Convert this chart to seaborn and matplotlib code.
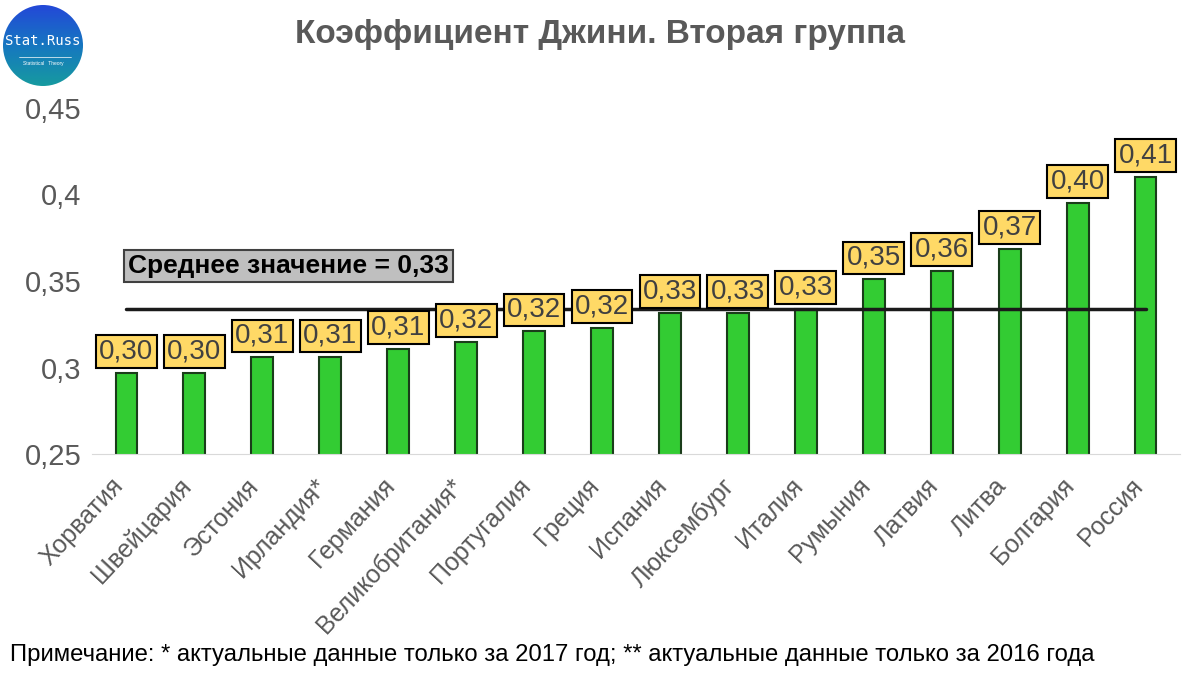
# Gini coefficient, second group of countries
import matplotlib
matplotlib.use("Agg")
import matplotlib.pyplot as plt
import matplotlib.patches as mpatches
import matplotlib.transforms as mtransforms
import seaborn as sns
import pandas as pd
import numpy as np

countries = ['Хорватия', 'Швейцария', 'Эстония', 'Ирландия*', 'Германия',
             'Великобритания*', 'Португалия', 'Греция', 'Испания', 'Люксембург',
             'Италия', 'Румыния', 'Латвия', 'Литва', 'Болгария', 'Россия']
gini = [0.297, 0.297, 0.306, 0.306, 0.311, 0.315, 0.321, 0.323, 0.3315, 0.3315,
        0.334, 0.351, 0.356, 0.3685, 0.395, 0.41]
mean_value = 0.334
y_ticks = [0.25, 0.3, 0.35, 0.4, 0.45]
y_tick_labels = ['0,25', '0,3', '0,35', '0,4', '0,45']

df = pd.DataFrame({'country': countries, 'gini': gini})

sns.set_style("white")
plt.rcParams['font.family'] = ['Liberation Sans', 'DejaVu Sans']

fig = plt.figure(figsize=(12, 6.73), dpi=100)
ax = fig.add_axes([0.077, 0.325, 0.906, 0.515])

sns.barplot(data=df, x='country', y='gini', ax=ax, color='#33CC33',
            width=0.32, edgecolor='#1a3d1a', linewidth=1.5, saturation=1)

ax.set_ylim(0.25, 0.45)
ax.set_xlim(-0.5, len(countries) - 0.5)
ax.set_yticks(y_ticks)
ax.set_yticklabels(y_tick_labels, fontsize=21, color='#595959')
ax.set_xticks(range(len(countries)))
ax.set_xticklabels(countries, rotation=47, ha='right', rotation_mode='anchor',
                   fontsize=18, color='#595959')
ax.tick_params(axis='y', length=0, pad=8)
ax.tick_params(axis='x', length=0, pad=14)
shift = mtransforms.ScaledTranslation(-16 / 100, 0, fig.dpi_scale_trans)
for lab in ax.get_xticklabels():
    lab.set_transform(lab.get_transform() + shift)
ax.set_xlabel('')
ax.set_ylabel('')
for side in ['top', 'right', 'left']:
    ax.spines[side].set_visible(False)
ax.spines['bottom'].set_color('#d9d9d9')

# value labels in yellow boxes
for i, v in enumerate(gini):
    ax.annotate(f'{v:.2f}'.replace('.', ','), xy=(i, v), xytext=(0, 6),
                textcoords='offset points', ha='center', va='bottom',
                fontsize=20, color='#404040',
                bbox=dict(boxstyle='square,pad=0.12', fc='#FFD966', ec='black', lw=1.5))

# mean line
ax.plot([0, len(countries) - 1], [mean_value, mean_value], color='#1a1a1a', lw=2.5, zorder=1)
ax.text(0.03, 0.3587, 'Среднее значение = 0,33', fontsize=19, fontweight='bold',
        color='black', ha='left', va='center',
        bbox=dict(boxstyle='square,pad=0.15', fc='#BFBFBF', ec='#404040', lw=1.5))

fig.text(0.5, 0.948, 'Коэффициент Джини. Вторая группа', ha='center', va='center',
         fontsize=24, fontweight='bold', color='#595959')
fig.text(0.008, 0.027, 'Примечание: * актуальные данные только за 2017 год; ** актуальные данные только за 2016 года',
         ha='left', va='center', fontsize=17.2, color='black')

# logo: gradient circle
lax = fig.add_axes([3 / 1200, 1 - 86 / 673, 80 / 1200, 81 / 673])
lax.set_axis_off()
grad = np.linspace(0, 1, 100)[:, None] * np.ones((1, 100))
cmap = matplotlib.colors.LinearSegmentedColormap.from_list('logo', ['#2348d8', '#1677c0', '#169aa0'])
im = lax.imshow(grad, cmap=cmap, extent=[0, 1, 0, 1], origin='upper', aspect='auto')
circ = mpatches.Circle((0.5, 0.5), 0.5, transform=lax.transData, fc='none', ec='none')
lax.add_patch(circ)
im.set_clip_path(circ)
lax.set_xlim(0, 1)
lax.set_ylim(0, 1)
lax.text(0.5, 0.56, 'Stat.Russ', ha='center', va='center', fontsize=10,
         color='white', family='DejaVu Sans Mono')
lax.plot([0.2, 0.85], [0.36, 0.36], color='white', lw=0.5)
lax.text(0.5, 0.28, 'Statistical   Theory', ha='center', va='center', fontsize=3.5,
         color='white')

fig.savefig('out.png', dpi=100)
